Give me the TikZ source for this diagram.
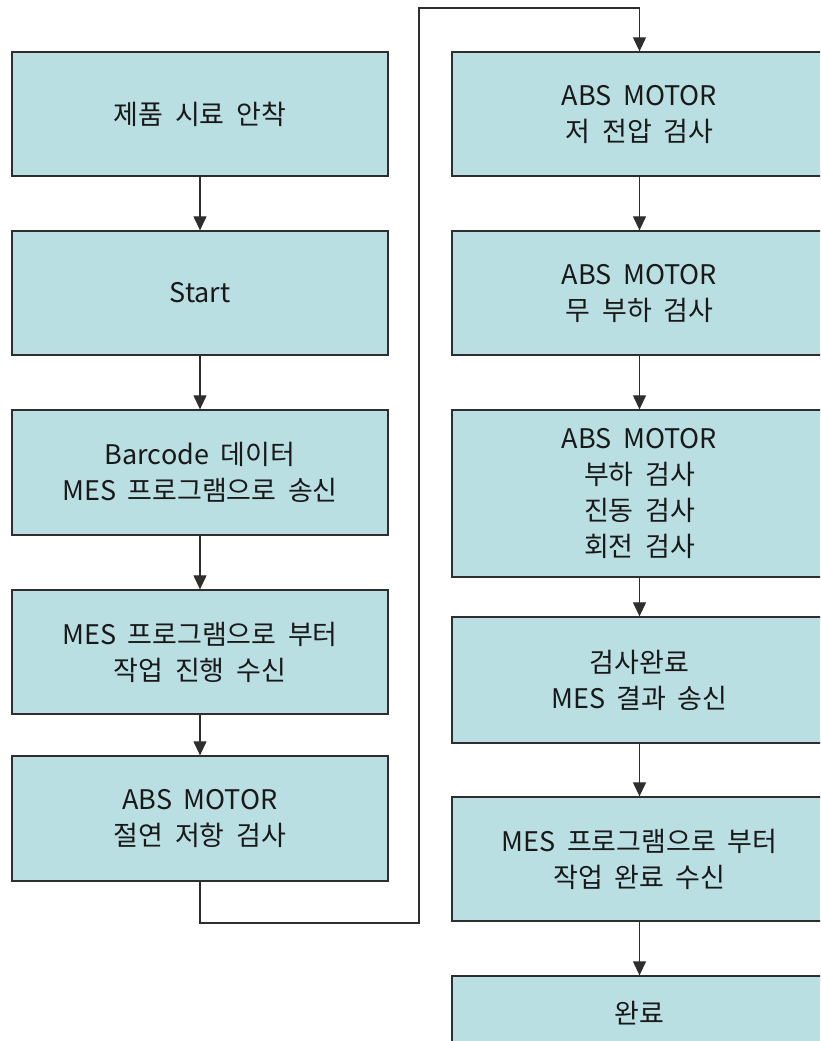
\documentclass[tikz,border=0pt]{standalone}
\usepackage{fontspec}
\setmainfont{Noto Sans CJK KR}[WordSpace=1.9]
\usetikzlibrary{arrows.meta}
\definecolor{boxfill}{HTML}{BADFE3}
\definecolor{boxline}{HTML}{2E2E2E}
\tikzset{
  stepbox/.style={draw=boxline, fill=boxfill, line width=1.3pt, inner sep=0pt,
    align=center, font=\fontsize{27}{36}\selectfont, text=black!90},
  flow/.style={draw=boxline, line width=1.2pt, -{Triangle[length=14pt,width=13pt]}},
  plain/.style={draw=boxline, line width=1.2pt}
}
\begin{document}
\begin{tikzpicture}[x=1pt,y=-1pt]
\clip (0,0) rectangle (820,1041);
\fill[white] (0,0) rectangle (820,1041);
% left column
\node[stepbox, minimum width=376pt, minimum height=124pt] (l1) at (200,114) {제품 시료 안착};
\node[stepbox, minimum width=376pt, minimum height=124pt] (l2) at (200,293) {Start};
\node[stepbox, minimum width=376pt, minimum height=125pt] (l3) at (200,472.5) {Barcode 데이터\\MES 프로그램으로 송신};
\node[stepbox, minimum width=376pt, minimum height=124pt] (l4) at (200,652) {MES 프로그램으로 부터\\작업 진행 수신};
\node[stepbox, minimum width=376pt, minimum height=125pt] (l5) at (200,818.5) {ABS MOTOR\\절연 저항 검사};
% right column
\node[stepbox, minimum width=375pt, minimum height=124pt] (r1) at (639.5,114) {ABS MOTOR\\저 전압 검사};
\node[stepbox, minimum width=375pt, minimum height=124pt] (r2) at (639.5,293) {ABS MOTOR\\무 부하 검사};
\node[stepbox, minimum width=375pt, minimum height=167pt] (r3) at (639.5,493.5) {ABS MOTOR\\부하 검사\\진동 검사\\회전 검사};
\node[stepbox, minimum width=375pt, minimum height=126pt] (r4) at (639.5,680) {검사완료\\MES 결과 송신};
\node[stepbox, minimum width=375pt, minimum height=124pt] (r5) at (639.5,859) {MES 프로그램으로 부터\\작업 완료 수신};
\node[stepbox, minimum width=375pt, minimum height=74pt] (r6) at (639.5,1013) {완료};
% connectors
\draw[flow] (l1) -- (l2);
\draw[flow] (l2) -- (l3);
\draw[flow] (l3) -- (l4);
\draw[flow] (l4) -- (l5);
\coordinate (c1) at (419,923);
\coordinate (c2) at (419,8);
\draw[flow] (l5.south) |- (c1) -- (c2) -| (r1.north);
\draw[flow] (r1) -- (r2);
\draw[flow] (r2) -- (r3);
\draw[flow] (r3) -- (r4);
\draw[flow] (r4) -- (r5);
\draw[flow] (r5) -- (r6);
\end{tikzpicture}
\end{document}
